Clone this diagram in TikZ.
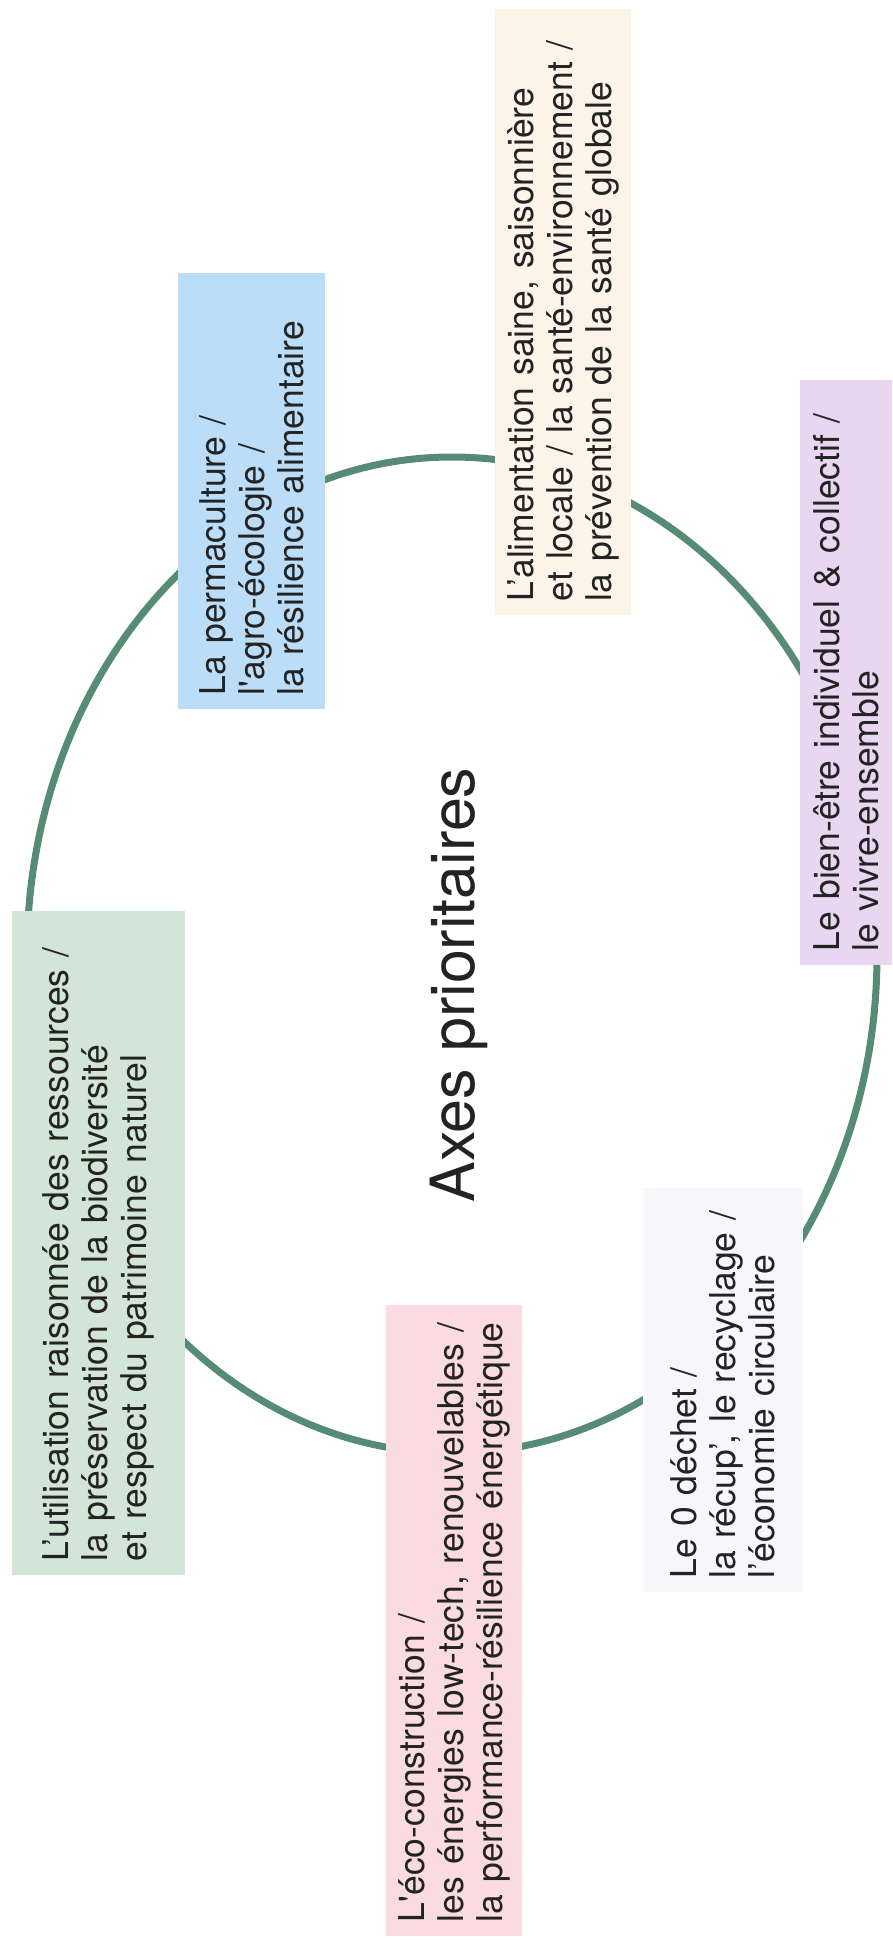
\documentclass[tikz,border=0pt]{standalone}
\usepackage{fontspec}
\setmainfont{TeX Gyre Heros}
\usepackage{tikz}
\usetikzlibrary{positioning}
\usepackage{xcolor}
\definecolor{axblue}{RGB}{187,221,248}
\definecolor{axpeach}{RGB}{252,243,233}
\definecolor{axlilac}{RGB}{233,214,241}
\definecolor{axwhite}{RGB}{247,247,251}
\definecolor{axpink}{RGB}{250,219,225}
\definecolor{axsage}{RGB}{211,229,214}
\definecolor{axring}{RGB}{86,139,117}
\definecolor{axtext}{RGB}{35,35,35}
\tikzstyle{ring} = [line width=7pt, color=axring]
\tikzstyle{axbox} = [rectangle, rotate=90, align=left, text=axtext, font=\fontsize{35.5}{39}\selectfont, inner xsep=14pt, inner ysep=0pt]
\tikzstyle{axtitle} = [rotate=90, inner sep=0pt, text=axtext, font=\fontsize{61}{70}\selectfont]

\begin{document}
\begin{tikzpicture}[x=1pt, y=-1pt]
    \path[use as bounding box, fill=white] (0,0) rectangle (892,1946);

    % Ring
    \draw[ring] (452,955) ellipse [x radius=425, y radius=498];

    % Title
    \node[axtitle] (titre) at (459,985) {Axes prioritaires};

    % Six axes
    \node[axbox, fill=axblue, minimum width=436pt, minimum height=147pt, text width=408pt] (perma) at (251.5,491)
        {La permaculture /\\ l\textquotesingle agro-écologie /\\ la résilience alimentaire};
    \node[axbox, fill=axpeach, minimum width=606pt, minimum height=136pt, text width=578pt] (alim) at (563,312)
        {L’alimentation saine, saisonnière\\ et locale / la santé-environnement /\\ la prévention de la santé globale};
    \node[axbox, fill=axlilac, minimum width=585pt, minimum height=92pt, text width=557pt] (bienetre) at (846,672.5)
        {\makebox[\hsize][s]{Le bien-être individuel \& collectif /}\\ le vivre-ensemble};
    \node[axbox, fill=axwhite, minimum width=404pt, minimum height=160pt, text width=376pt] (dechet) at (723,1390)
        {Le 0 déchet /\\ la récup’, le recyclage /\\ l’économie circulaire};
    \node[axbox, fill=axpink, minimum width=631pt, minimum height=136pt, text width=603pt] (energie) at (454,1620.5)
        {L\textquotesingle éco-construction /\\ les énergies low-tech, renouvelables /\\ la performance-résilience énergétique};
    \node[axbox, fill=axsage, minimum width=664pt, minimum height=173pt, text width=636pt] (ressources) at (98.5,1243)
        {\makebox[\hsize][s]{L’utilisation raisonnée des ressources /}\\ la préservation de la biodiversité\\ et respect du patrimoine naturel};
\end{tikzpicture}
\end{document}
